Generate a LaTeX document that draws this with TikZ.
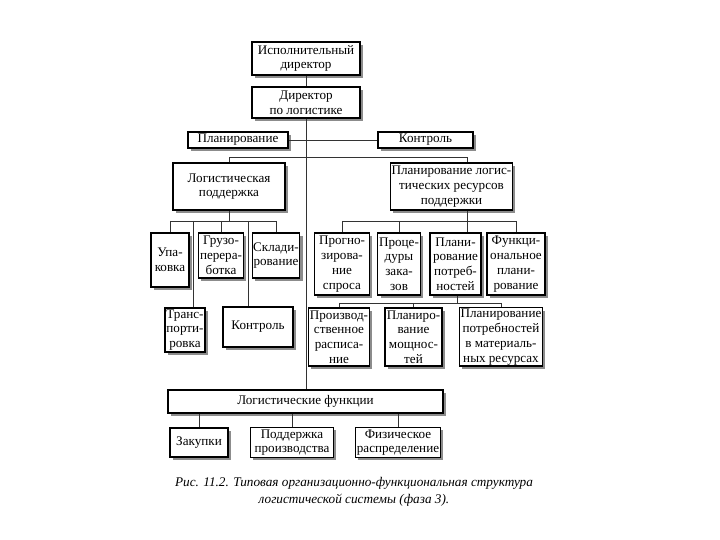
\documentclass[tikz,border=0pt]{standalone}
\usepackage{fontspec}
\setmainfont{Liberation Serif}
\usepackage{tikz}
\usetikzlibrary{shadows,calc,positioning}

\begin{document}
\begin{tikzpicture}[
        x=0.03cm, y=-0.03cm, % one unit is one pixel of the scan
        box/.style={draw, line width=0.9pt, fill=white, align=center, inner sep=1pt,
            font=\fontsize{11.2}{12.6}\selectfont,
            drop shadow={shadow xshift=2.2pt, shadow yshift=-2.2pt, fill=black!45, opacity=1}},
        bx/.style 2 args={box, minimum width=#1*0.3mm, minimum height=#2*0.3mm},
        link/.style={line width=0.5pt, black!80},
    ]
        \useasboundingbox (0,0) rectangle (720,540);

        % Top of the chart
        \node[bx={108}{33}] (ceo) at (306,58.5) {Исполнительный\\директор};
        \node[bx={108}{31}] (dir) at (306,102.5) {Директор\\по логистике};
        \node[bx={100}{16}] (plan) at (238,140) {Планирование};
        \node[bx={95}{16}] (ctrl) at (425.5,140) {Контроль};
        \node[bx={112}{47}] (sup) at (229,186.5) {Логистическая\\поддержка};
        \node[bx={103}{47}] (res) at (451.5,186.5) {Планирование логис-\\тических ресурсов\\поддержки};

        % Logistic support branch
        \node[bx={38}{54}] (upak) at (170,260) {Упа-\\ковка};
        \node[bx={44}{45}] (gruz) at (221,255.5) {Грузо-\\перера-\\ботка};
        \node[bx={46}{45}] (sklad) at (276,255.5) {Склади-\\рование};
        \node[bx={40}{44}] (trans) at (185,330) {Транс-\\порти-\\ровка};
        \node[bx={70}{40}] (ctrl2) at (258,327) {Контроль};

        % Resource planning branch
        \node[bx={55}{62}] (prog) at (342,264) {Прогно-\\зирова-\\ние\\спроса};
        \node[bx={42}{62}] (proc) at (399,264) {Проце-\\дуры\\зака-\\зов};
        \node[bx={51}{62}] (planp) at (455.5,264) {Плани-\\рование\\потреб-\\ностей};
        \node[bx={58}{62}] (funk) at (516,264) {Функци-\\ональное\\плани-\\рование};
        \node[bx={58}{58}] (proizv) at (339,337) {Производ-\\ственное\\расписа-\\ние};
        \node[bx={57}{58}] (mosh) at (413.5,337) {Планиро-\\вание\\мощнос-\\тей};
        \node[bx={82}{58}] (mrp) at (501,337) {Планирование\\потребностей\\в материаль-\\ных ресурсах};

        % Logistic functions
        \node[bx={275}{23}] (logf) at (305.5,401.5) {Логистические функции};
        \node[bx={58}{29}] (zak) at (199,442.5) {Закупки};
        \node[bx={83}{30}] (podd) at (292,442.5) {Поддержка\\производства};
        \node[bx={83}{30}] (fiz) at (398,442.5) {Физическое\\распределение};

        % Caption
        \node[font=\fontsize{11.3}{14.5}\selectfont\itshape, align=center] (cap) at (354,491.5)
            {Рис. 11.2. Типовая организационно-функциональная структура\\логистической системы (фаза 3).};

        % Bus lines and turning points
        \coordinate (busA) at (0,157);
        \coordinate (busB) at (0,221);
        \coordinate (busC) at (0,303);
        \coordinate (resx) at (467,0);
        \coordinate (planx) at (457,0);

        % Spine
        \draw[link] (ceo) -- (dir);
        \draw[link] (dir.south) -- (dir.south |- logf.north);
        \draw[link] (plan.east) -- (ctrl.west);
        \draw[link] (sup.north) |- (resx |- busA) -- (resx |- res.north);

        % Under logistic support
        \draw[link] (sup.south) -- (sup.south |- busB);
        \draw[link] (upak.north |- busB) -- (sklad.north |- busB);
        \draw[link] (upak.north |- busB) -- (upak.north);
        \draw[link] (gruz.north |- busB) -- (gruz.north);
        \draw[link] (sklad.north |- busB) -- (sklad.north);
        \draw[link] ([xshift=8*0.3mm]trans.north |- busB) -- ([xshift=8*0.3mm]trans.north);
        \draw[link] ([xshift=-10*0.3mm]ctrl2.north |- busB) -- ([xshift=-10*0.3mm]ctrl2.north);

        % Under resource planning
        \draw[link] (res.south -| resx) -- (resx |- planp.north);
        \draw[link] (prog.north |- busB) -- (funk.north |- busB);
        \draw[link] (prog.north |- busB) -- (prog.north);
        \draw[link] (proc.north |- busB) -- (proc.north);
        \draw[link] (funk.north |- busB) -- (funk.north);
        \draw[link] (planx |- planp.south) -- (planx |- busC);
        \draw[link] (proizv.north |- busC) -- (mrp.north |- busC);
        \draw[link] (proizv.north |- busC) -- (proizv.north);
        \draw[link] (mosh.north |- busC) -- (mosh.north);
        \draw[link] (mrp.north |- busC) -- (mrp.north);

        % Under logistic functions
        \draw[link] (zak.north |- logf.south) -- (zak.north);
        \draw[link] (podd.north |- logf.south) -- (podd.north);
        \draw[link] (fiz.north |- logf.south) -- (fiz.north);

    \end{tikzpicture}
\end{document}
